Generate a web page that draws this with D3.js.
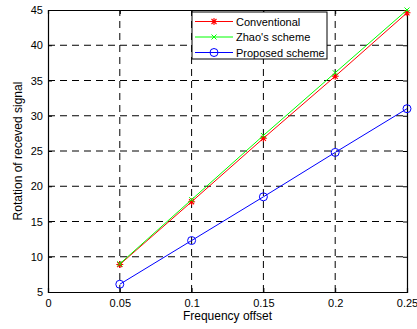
<!DOCTYPE html>
<html>
<head>
<meta charset="utf-8">
<script src="https://cdn.jsdelivr.net/npm/d3@7"></script>
<style>
  body { margin: 0; background: #fff; }
  text { font-family: "Liberation Sans", Arial, sans-serif; font-size: 11px; fill: #000; }
</style>
</head>
<body>
<svg width="417" height="329"></svg>
<script>
const xTicks = [0, 0.05, 0.1, 0.15, 0.2, 0.25];
const yTicks = [5, 10, 15, 20, 25, 30, 35, 40, 45];
const offsets = [0.05, 0.1, 0.15, 0.2, 0.25];
const conventional = [8.9, 17.8, 26.8, 35.6, 44.6];
const zhao = [9.0, 18.1, 27.2, 36.1, 45.0];
const proposed = [6.1, 12.3, 18.5, 24.8, 31.0];
const seriesNames = ["Conventional", "Zhao's scheme", "Proposed scheme"];

const svg = d3.select("svg");
const margin = { left: 48, right: 10, top: 10, bottom: 37 };
const width = +svg.attr("width");
const height = +svg.attr("height");

const x = d3.scaleLinear().domain([0, 0.25]).range([margin.left, width - margin.right]);
const y = d3.scaleLinear().domain([5, 45]).range([height - margin.bottom, margin.top]);

// grid (dashed)
const grid = svg.append("g");
grid.selectAll(".vg").data(xTicks.slice(1, -1)).enter().append("line")
  .attr("x1", d => x(d)).attr("x2", d => x(d))
  .attr("y1", y(5)).attr("y2", y(45))
  .attr("stroke", "#000").attr("stroke-width", 1).attr("stroke-dasharray", "7,5");
grid.selectAll(".hg").data(yTicks.slice(1, -1)).enter().append("line")
  .attr("x1", x(0)).attr("x2", x(0.25))
  .attr("y1", d => y(d)).attr("y2", d => y(d))
  .attr("stroke", "#000").attr("stroke-width", 1).attr("stroke-dasharray", "7,5");

// axes with inward ticks
const xAxis = d3.axisBottom(x).tickValues(xTicks).tickSize(-4).tickPadding(7).tickFormat(d3.format("~g"));
const yAxis = d3.axisLeft(y).tickValues(yTicks).tickSize(-4).tickPadding(5);
svg.append("g").attr("transform", `translate(0,${y(5)})`).call(xAxis);
svg.append("g").attr("transform", `translate(${x(0)},0)`).call(yAxis);
svg.append("g").attr("transform", `translate(0,${y(45)})`)
  .call(d3.axisTop(x).tickValues(xTicks).tickSize(-4).tickFormat(""));
svg.append("g").attr("transform", `translate(${x(0.25)},0)`)
  .call(d3.axisRight(y).tickValues(yTicks).tickSize(-4).tickFormat(""));
svg.selectAll(".domain").attr("stroke", "#000").attr("stroke-width", 1.2);
svg.selectAll(".tick line").attr("stroke", "#000");
svg.selectAll(".tick text").style("font-size", "11px");

// labels
svg.append("text").attr("x", (x(0) + x(0.25)) / 2).attr("y", 320)
  .attr("text-anchor", "middle").style("font-size", "12px").text("Frequency offset");
svg.append("text").attr("transform", `translate(22,${(y(5) + y(45)) / 2}) rotate(-90)`)
  .attr("text-anchor", "middle").style("font-size", "12px").text("Rotation of receved signal");

// series
const line = d3.line().x(d => x(d[0])).y(d => y(d[1]));
const series = [
  { name: seriesNames[0], values: conventional, color: "#ff0000", marker: "star" },
  { name: seriesNames[1], values: zhao, color: "#00ff00", marker: "x" },
  { name: seriesNames[2], values: proposed, color: "#0000ff", marker: "circle" }
];

function drawMarker(g, type, color) {
  if (type === "circle") {
    g.append("circle").attr("r", 4).attr("fill", "none").attr("stroke", color).attr("stroke-width", 1);
  } else if (type === "x") {
    g.append("path").attr("d", "M-2.5,-2.5L2.5,2.5M-2.5,2.5L2.5,-2.5").attr("stroke", color).attr("stroke-width", 1);
  } else {
    g.append("path").attr("d", "M-3.5,0L3.5,0M0,-3.5L0,3.5M-2.5,-2.5L2.5,2.5M-2.5,2.5L2.5,-2.5").attr("stroke", color).attr("stroke-width", 1.1);
  }
}

series.forEach(s => {
  const pts = offsets.map((o, i) => [o, s.values[i]]);
  svg.append("path").datum(pts).attr("d", line)
    .attr("fill", "none").attr("stroke", s.color).attr("stroke-width", 1);
  pts.forEach(p => {
    const g = svg.append("g").attr("transform", `translate(${x(p[0])},${y(p[1])})`);
    drawMarker(g, s.marker, s.color);
  });
});

// legend
const lg = svg.append("g").attr("transform", "translate(192,12)");
lg.append("rect").attr("width", 135).attr("height", 47)
  .attr("fill", "#fff").attr("stroke", "#000").attr("stroke-width", 1);
series.forEach((s, i) => {
  const yy = 9.5 + i * 15.5;
  lg.append("line").attr("x1", 3).attr("x2", 41).attr("y1", yy).attr("y2", yy)
    .attr("stroke", s.color).attr("stroke-width", 1);
  drawMarker(lg.append("g").attr("transform", `translate(22,${yy})`), s.marker, s.color);
  lg.append("text").attr("x", 44).attr("y", yy + 4).text(s.name);
});
</script>
</body>
</html>
